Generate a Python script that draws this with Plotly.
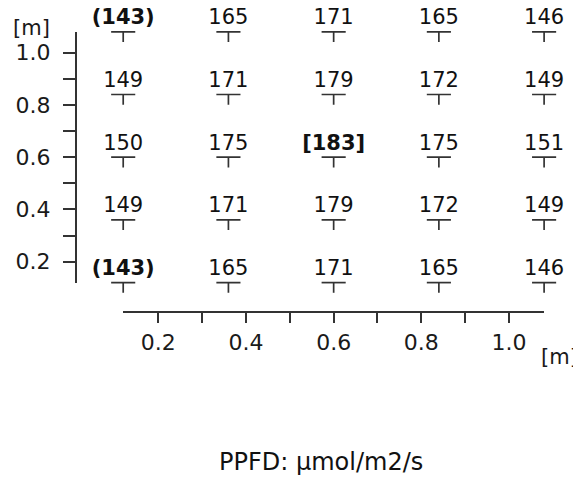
import plotly.graph_objects as go

# the page body has an 8px margin, so the figure is drawn 8px in from the corner
PAGE_W, PAGE_H, OFF = 581, 477, 8
W, H = PAGE_W - OFF, PAGE_H - OFF

# measurement grid (meters)
x_pos = [0.12, 0.36, 0.60, 0.84, 1.08]
y_pos = [1.08, 0.84, 0.60, 0.36, 0.12]

# PPFD values (µmol/m2/s), rows top -> bottom
row_1 = ["(143)", "165", "171", "165", "146"]
row_2 = ["149", "171", "179", "172", "149"]
row_3 = ["150", "175", "[183]", "175", "151"]
row_4 = ["149", "171", "179", "172", "149"]
row_5 = ["(143)", "165", "171", "165", "146"]
rows = [row_1, row_2, row_3, row_4, row_5]

x_tickvals = [0.2, 0.3, 0.4, 0.5, 0.6, 0.7, 0.8, 0.9, 1.0]
x_ticktext = ["0.2", "", "0.4", "", "0.6", "", "0.8", "", "1.0"]
y_tickvals = [0.2, 0.3, 0.4, 0.5, 0.6, 0.7, 0.8, 0.9, 1.0]
y_ticktext = ["0.2", "", "0.4", "", "0.6", "", "0.8", "", "1.0"]

axis_unit = "[m]"
caption = "PPFD: µmol/m2/s"

xs, ys, texts = [], [], []
for yv, row in zip(y_pos, rows):
    for xv, t in zip(x_pos, row):
        xs.append(xv)
        ys.append(yv)
        texts.append(f"<b>{t}</b>" if ("(" in t or "[" in t) else t)

mark_color = "#333333"
num_font = "DejaVu Sans, Liberation Sans, Arial"


def fx(px):  # page x pixel -> paper fraction
    return (px - OFF) / W


def fy(py):  # page y pixel -> paper fraction
    return 1 - (py - OFF) / H


# page-pixel geometry of the drawn axes
ax_lo, ax_hi = 0.12, 1.08
x0_px, x1_px = 123.2, 544.1
y0_px, y1_px = 282.6, 31.8
xaxis_y_px = 312.3
yaxis_x_px = 76.0
sx = (x1_px - x0_px) / (ax_hi - ax_lo)
sy = (y0_px - y1_px) / (ax_hi - ax_lo)

# wider (invisible) data axes with identical scale so marks are never clipped
dx_lo, dx_hi = 0.06, 1.14
dy_lo, dy_hi = 0.0, 1.17
dx0 = x0_px + (dx_lo - ax_lo) * sx
dx1 = x0_px + (dx_hi - ax_lo) * sx
dy0 = y0_px - (dy_lo - ax_lo) * sy
dy1 = y0_px - (dy_hi - ax_lo) * sy

fig = go.Figure()
fig.add_trace(go.Scatter(
    x=xs, y=ys, mode="markers+text", text=texts,
    textposition="top center",
    textfont=dict(family=num_font, size=21, color="#111111"),
    marker=dict(size=2, color="rgba(0,0,0,0)"),
    error_x=dict(type="constant", value=0.0275, width=0, thickness=1.7, color=mark_color),
    error_y=dict(type="constant", symmetric=False, value=0, valueminus=0.039,
                 width=0, thickness=1.7, color=mark_color),
    cliponaxis=False, showlegend=False, hoverinfo="skip",
))
fig.add_trace(go.Scatter(x=[ax_lo], y=[ax_lo], xaxis="x2", yaxis="y2", mode="markers",
                         marker=dict(size=1, color="rgba(0,0,0,0)"),
                         showlegend=False, hoverinfo="skip"))

tick_font = dict(family=num_font, size=22, color="#1a1a1a")

fig.update_layout(
    width=W, height=H, autosize=False,
    margin=dict(l=0, r=0, t=0, b=0),
    paper_bgcolor="white", plot_bgcolor="rgba(0,0,0,0)",
    xaxis=dict(domain=[fx(dx0), fx(dx1)], range=[dx_lo, dx_hi], visible=False,
               fixedrange=True),
    yaxis=dict(domain=[fy(dy0), fy(dy1)], range=[dy_lo, dy_hi], visible=False,
               fixedrange=True),
    xaxis2=dict(
        domain=[fx(x0_px), fx(x1_px)], range=[ax_lo, ax_hi],
        anchor="free", position=fy(xaxis_y_px),
        showline=True, linecolor=mark_color, linewidth=2,
        ticks="outside", ticklen=10, tickwidth=1.6, tickcolor=mark_color,
        tickvals=x_tickvals, ticktext=x_ticktext, tickfont=tick_font,
        showgrid=False, zeroline=False, fixedrange=True,
    ),
    yaxis2=dict(
        domain=[fy(y0_px), fy(y1_px)], range=[ax_lo, ax_hi],
        anchor="free", position=fx(yaxis_x_px),
        showline=True, linecolor=mark_color, linewidth=2,
        ticks="outside", ticklen=12, tickwidth=1.6, tickcolor=mark_color,
        tickvals=y_tickvals, ticktext=y_ticktext, tickfont=tick_font,
        ticklabelstandoff=8,
        showgrid=False, zeroline=False, fixedrange=True,
    ),
    annotations=[
        dict(text=axis_unit, xref="paper", yref="paper", x=fx(31), y=fy(28),
             xanchor="center", yanchor="middle", showarrow=False,
             font=dict(family=num_font, size=21, color="#1a1a1a")),
        dict(text=axis_unit, xref="paper", yref="paper", x=fx(580), y=fy(357),
             xanchor="right", yanchor="middle", showarrow=False,
             font=dict(family=num_font, size=21, color="#1a1a1a")),
        dict(text=caption, xref="paper", yref="paper", x=fx(321), y=fy(462),
             xanchor="center", yanchor="middle", showarrow=False,
             font=dict(family="DejaVu Sans, Open Sans", size=24, color="#111111")),
    ],
)

fig.write_html("out.html")
